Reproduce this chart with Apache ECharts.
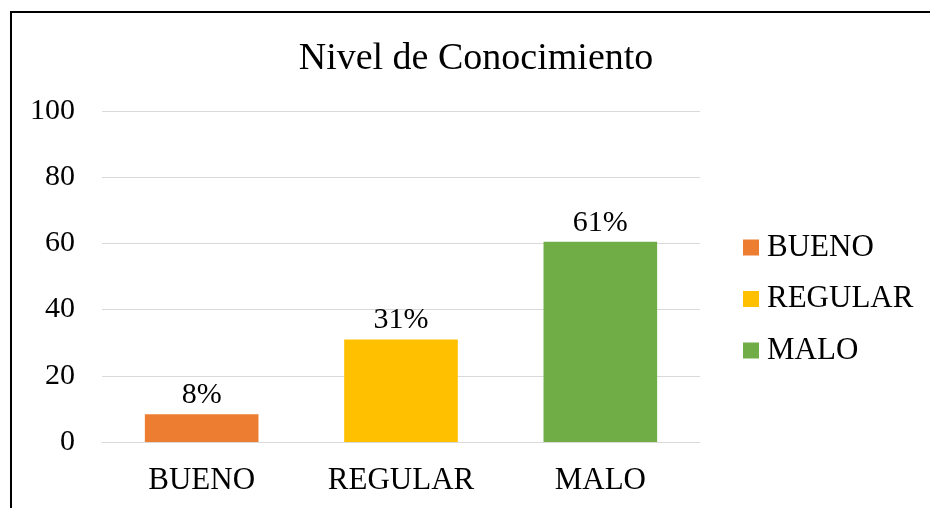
<!DOCTYPE html>
<html>
<head>
<meta charset="utf-8">
<script src="https://cdn.jsdelivr.net/npm/echarts@6/dist/echarts.min.js"></script>
<style>
  html, body { margin: 0; padding: 0; background: #fff; }
  #main { width: 930px; height: 508px; }
</style>
</head>
<body>
<div id="main"></div>
<script>
var categories = ["BUENO", "REGULAR", "MALO"];
var values = [8.4, 31, 60.5];
var labels = ["8%", "31%", "61%"];
var colors = ["#ED7D31", "#FFC000", "#70AD47"];
var yTicks = [0, 20, 40, 60, 80, 100];

var font = "'Liberation Serif', 'Times New Roman', serif";

var myChart = echarts.init(document.getElementById("main"));

var series = categories.map(function (name, i) {
  var data = categories.map(function (c, j) {
    return j === i ? values[i] : null;
  });
  return {
    name: name,
    type: "bar",
    stack: "total",
    barWidth: "57%",
    itemStyle: { color: colors[i] },
    label: {
      show: true,
      position: "top",
      distance: 4,
      color: "#000",
      fontFamily: font,
      fontSize: 30,
      formatter: function () {
        return labels[i];
      },
    },
    data: data,
  };
});

var option = {
  backgroundColor: "#fff",
  animation: false,
  title: {
    text: "Nivel de Conocimiento",
    left: 476,
    textAlign: "center",
    top: 40,
    padding: 0,
    textStyle: {
      fontFamily: font,
      fontSize: 38,
      fontWeight: "normal",
      color: "#000",
    },
  },
  graphic: [
    {
      type: "rect",
      shape: { x: 11, y: 12, width: 1000, height: 1000 },
      style: { fill: "none", stroke: "#000", lineWidth: 2 },
    },
  ],
  legend: {
    orient: "vertical",
    left: 743,
    top: 232,
    padding: 0,
    itemWidth: 16,
    itemHeight: 16,
    itemGap: 20.5,
    icon: "rect",
    data: categories,
    textStyle: {
      fontFamily: font,
      fontSize: 31,
      lineHeight: 31,
      color: "#000",
      padding: [0, 0, 0, 3],
    },
  },
  grid: {
    left: 102,
    right: 230,
    top: 111,
    bottom: 66,
  },
  xAxis: {
    type: "category",
    data: categories,
    axisLine: { lineStyle: { color: "#d9d9d9", width: 1 } },
    axisTick: { show: false },
    axisLabel: {
      margin: 23,
      fontFamily: font,
      fontSize: 31,
      color: "#000",
    },
  },
  yAxis: {
    type: "value",
    min: yTicks[0],
    max: yTicks[yTicks.length - 1],
    interval: 20,
    axisLine: { show: false },
    axisTick: { show: false },
    splitLine: { lineStyle: { color: "#d9d9d9", width: 1 } },
    axisLabel: {
      margin: 27,
      fontFamily: font,
      fontSize: 30,
      color: "#000",
    },
  },
  series: series,
};

option && myChart.setOption(option);
</script>
</body>
</html>
